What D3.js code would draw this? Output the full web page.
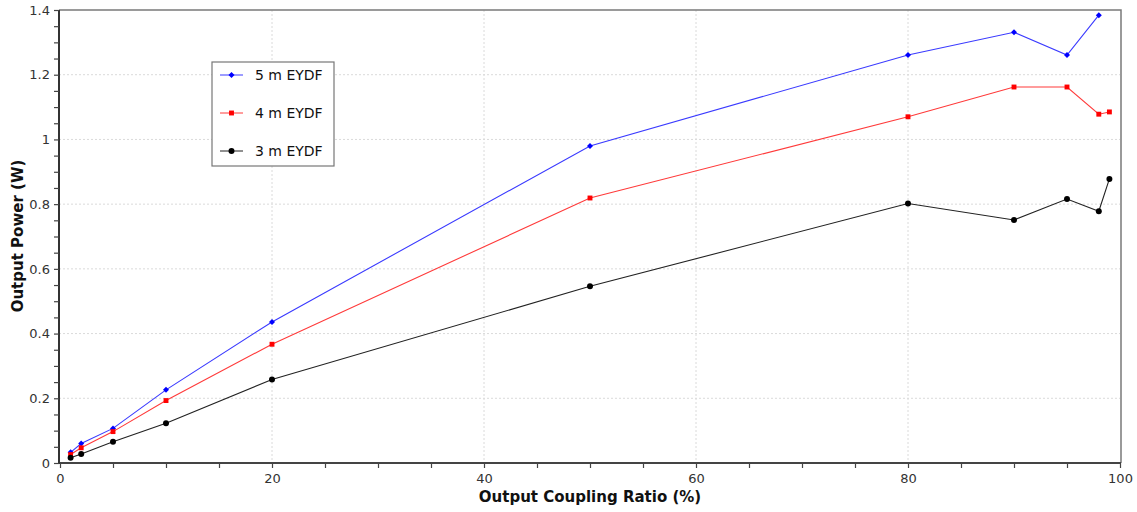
<!DOCTYPE html>
<html><head><meta charset="utf-8">
<script src="https://cdn.jsdelivr.net/npm/d3@7"></script>
<style>body{margin:0;background:#fff;}svg{display:block;}</style>
</head><body>
<svg id="c" width="1137" height="512"></svg>
<script>
const ratios5 = [1, 2, 5, 10, 20, 50, 80, 90, 95, 98];
const power5 = [0.033, 0.060, 0.107, 0.226, 0.436, 0.980, 1.261, 1.331, 1.261, 1.384];
const ratios4 = [1, 2, 5, 10, 20, 50, 80, 90, 95, 98, 99];
const power4 = [0.026, 0.047, 0.097, 0.193, 0.367, 0.819, 1.070, 1.162, 1.162, 1.078, 1.085];
const ratios3 = [1, 2, 5, 10, 20, 50, 80, 90, 95, 98, 99];
const power3 = [0.016, 0.028, 0.066, 0.123, 0.258, 0.546, 0.802, 0.751, 0.816, 0.778, 0.878];
const seriesNames = ["5 m EYDF", "4 m EYDF", "3 m EYDF"];
const xTicks = [0, 20, 40, 60, 80, 100];
const yTicks = [0, 0.2, 0.4, 0.6, 0.8, 1, 1.2, 1.4];

const series = [
  {name: seriesNames[0], xs: ratios5, ys: power5, line: "#3a3aff", mark: "#0000ff", shape: d3.symbolSquare, size: 18, rot: 45},
  {name: seriesNames[1], xs: ratios4, ys: power4, line: "#ff3a3a", mark: "#ff0000", shape: d3.symbolSquare, size: 24, rot: 0},
  {name: seriesNames[2], xs: ratios3, ys: power3, line: "#222", mark: "#000", shape: d3.symbolCircle, size: 28, rot: 0}
];

const svg = d3.select("#c");
const L = 60, R = 1120, T = 10, B = 463;
const x = d3.scaleLinear().domain([0, 100]).range([L, R]);
const y = d3.scaleLinear().domain([0, 1.4]).range([B, T]);
const font = "Tahoma, 'DejaVu Sans', Verdana, sans-serif";

// grid
const g = svg.append("g");
g.selectAll(".gx").data(xTicks.filter(v => v > 0 && v < 100)).enter().append("line")
  .attr("x1", d => x(d)).attr("x2", d => x(d)).attr("y1", T).attr("y2", B)
  .attr("stroke", "#dadada").attr("stroke-dasharray", "2,2");
g.selectAll(".gy").data(yTicks.filter(v => v > 0 && v < 1.4)).enter().append("line")
  .attr("y1", d => y(d)).attr("y2", d => y(d)).attr("x1", L - 1).attr("x2", R)
  .attr("stroke", "#dadada").attr("stroke-dasharray", "2,2");

// frame top/right
svg.append("path").attr("d", `M${L-1},${T}H${R+1}V${B}`).attr("fill", "none")
  .attr("stroke", "#7a7a7a").attr("stroke-width", 1.5);

// axes
const xAxis = d3.axisBottom(x).tickValues(d3.range(0, 101, 5)).tickSize(5)
  .tickFormat(d => xTicks.includes(d) ? d3.format("d")(d) : "");
const gx = svg.append("g").attr("transform", `translate(0,${B})`).call(xAxis);
gx.select(".domain").attr("stroke", "#444").attr("stroke-width", 2).attr("d", `M${L-2},0H${R+1}`);
gx.selectAll(".tick line").attr("stroke", "#444").attr("stroke-width", 1.2);
gx.selectAll(".tick text").attr("fill", "#333").attr("font-size", 13).attr("font-family", font).attr("dy", "0.95em");

const yAxis = d3.axisLeft(y).tickValues(d3.range(0, 29).map(i => +(i * 0.05).toFixed(2))).tickSize(5)
  .tickFormat(d => yTicks.some(t => Math.abs(t - d) < 1e-6) ? d3.format("~g")(d) : "");
const gy = svg.append("g").attr("transform", `translate(${L-1},0)`).call(yAxis);
gy.select(".domain").attr("stroke", "#333").attr("stroke-width", 2).attr("d", `M0,${T}V${B+1}`);
gy.selectAll(".tick line").attr("stroke", "#444").attr("stroke-width", 1.2);
gy.selectAll(".tick text").attr("fill", "#333").attr("font-size", 13).attr("font-family", font).attr("dx", "-1px");

// titles
svg.append("text").attr("x", 590).attr("y", 502).attr("text-anchor", "middle")
  .attr("font-family", font).attr("font-weight", "bold").attr("font-size", 15).attr("fill", "#111")
  .text("Output Coupling Ratio (%)");
svg.append("text").attr("transform", "translate(23,236) rotate(-90)").attr("text-anchor", "middle")
  .attr("font-family", font).attr("font-weight", "bold").attr("font-size", 15).attr("fill", "#111")
  .text("Output Power (W)");

// lines & markers
series.forEach(s => {
  const pts = s.xs.map((v, i) => [v, s.ys[i]]);
  svg.append("path").datum(pts)
    .attr("d", d3.line().x(d => x(d[0])).y(d => y(d[1])))
    .attr("fill", "none").attr("stroke", s.line).attr("stroke-width", 1.1);
  svg.selectAll(null).data(pts).enter().append("path")
    .attr("transform", d => `translate(${x(d[0])},${y(d[1])}) rotate(${s.rot})`)
    .attr("d", d3.symbol().type(s.shape).size(s.size)).attr("fill", s.mark);
});

// legend
const lg = svg.append("g");
lg.append("rect").attr("x", 212).attr("y", 62).attr("width", 122).attr("height", 104)
  .attr("fill", "#fff").attr("stroke", "#777").attr("stroke-width", 1.2);
series.forEach((s, i) => {
  const yy = 75 + i * 38;
  lg.append("line").attr("x1", 220).attr("x2", 243).attr("y1", yy).attr("y2", yy)
    .attr("stroke", s.line).attr("stroke-width", 1);
  lg.append("path").attr("transform", `translate(231.5,${yy}) rotate(${s.rot})`)
    .attr("d", d3.symbol().type(s.shape).size(s.size)).attr("fill", s.mark);
  lg.append("text").attr("x", 255).attr("y", yy).attr("dy", "0.35em")
    .attr("font-family", font).attr("font-size", 14).attr("fill", "#111").text(s.name);
});
</script>
</body></html>
